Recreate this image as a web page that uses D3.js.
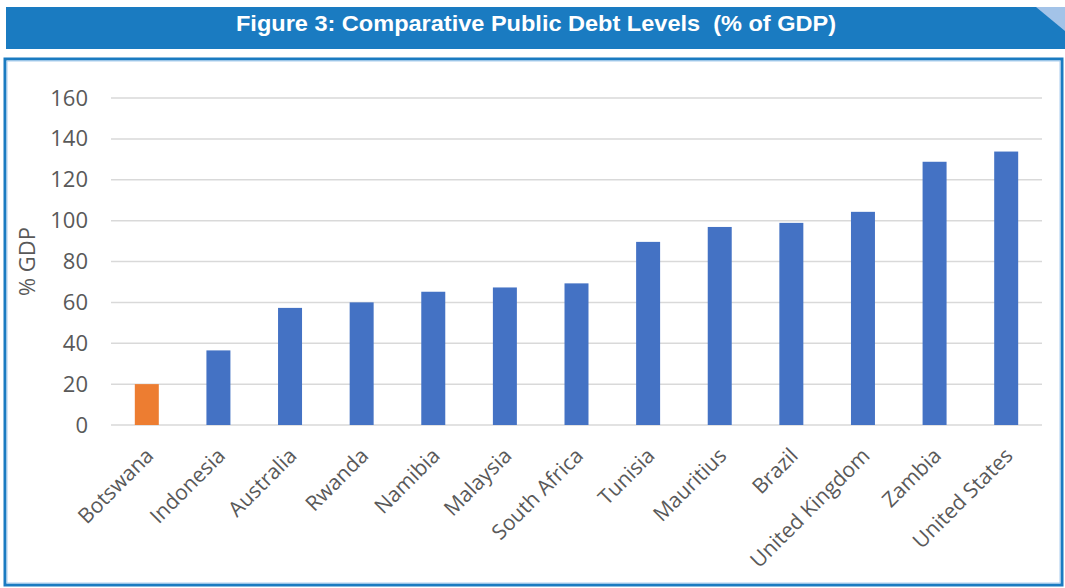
<!DOCTYPE html>
<html>
<head>
<meta charset="utf-8">
<script src="https://cdn.jsdelivr.net/npm/d3@7"></script>
<style>
  body { margin: 0; background: #fff; }
  svg { display: block; }
</style>
</head>
<body>
<svg id="chart"></svg>
<script>
// data
var countries = ["Botswana", "Indonesia", "Australia", "Rwanda", "Namibia", "Malaysia",
  "South Africa", "Tunisia", "Mauritius", "Brazil", "United Kingdom", "Zambia", "United States"];
var debt = [20, 36.5, 57.3, 60, 65.2, 67.3, 69.3, 89.6, 96.9, 98.9, 104.3, 128.8, 133.8];
var yTicks = [0, 20, 40, 60, 80, 100, 120, 140, 160];
var highlight = "Botswana";

var W = 1065, H = 588;
var svg = d3.select("#chart").attr("width", W).attr("height", H);

// header band
svg.append("rect")
  .attr("x", 6).attr("y", 7).attr("width", W - 6).attr("height", 42)
  .attr("fill", "#1a7bc1");
svg.append("path")
  .attr("d", "M1036,7 L1065,7 L1065,31 Z")
  .attr("fill", "#a3c3e8");
svg.append("text")
  .attr("x", 236).attr("y", 31)
  .attr("textLength", 600)
  .attr("lengthAdjust", "spacingAndGlyphs")
  .attr("fill", "#fff")
  .style("white-space", "pre")
  .style("font-family", "'Liberation Sans', Arial, sans-serif")
  .style("font-weight", "bold")
  .style("font-size", "22px")
  .text("Figure 3: Comparative Public Debt Levels  (% of GDP)");

// frame
svg.append("rect")
  .attr("x", 5).attr("y", 59).attr("width", 1057).attr("height", 526)
  .attr("fill", "none")
  .attr("stroke", "#1a7bc1").attr("stroke-width", 3);
svg.append("rect")
  .attr("x", 7).attr("y", 61).attr("width", 1053).attr("height", 522)
  .attr("fill", "none")
  .attr("stroke", "#a9cdee").attr("stroke-width", 1);

var margin = {top: 98, left: 111, right: 1042, bottom: 425};

var x = d3.scaleBand()
  .domain(countries)
  .range([margin.left, margin.right])
  .paddingInner(0.665)
  .paddingOuter(0.3325);

var y = d3.scaleLinear()
  .domain([0, 160])
  .range([margin.bottom, margin.top]);

var font = "'Open Sans', 'DejaVu Sans', sans-serif";

// gridlines
svg.append("g")
  .selectAll("line")
  .data(yTicks)
  .enter()
  .append("line")
    .attr("x1", margin.left).attr("x2", margin.right)
    .attr("y1", function(d) { return y(d); })
    .attr("y2", function(d) { return y(d); })
    .attr("stroke", "#d9d9d9").attr("stroke-width", 1.5);

// y axis
var yAxis = svg.append("g")
  .attr("transform", "translate(" + margin.left + ",0)")
  .call(d3.axisLeft(y).tickValues(yTicks).tickSize(0).tickPadding(23));
yAxis.select(".domain").remove();
yAxis.selectAll("text")
  .style("font-family", font)
  .style("font-size", "22px")
  .attr("fill", "#595959");

svg.append("text")
  .attr("transform", "translate(35," + ((margin.top + margin.bottom) / 2) + ") rotate(-90)")
  .attr("text-anchor", "middle")
  .style("font-family", font)
  .style("font-size", "22px")
  .attr("fill", "#595959")
  .text("% GDP");

// bars
svg.append("g")
  .selectAll("rect")
  .data(countries)
  .enter()
  .append("rect")
    .attr("x", function(d) { return x(d); })
    .attr("y", function(d, i) { return y(debt[i]); })
    .attr("width", x.bandwidth())
    .attr("height", function(d, i) { return y(0) - y(debt[i]); })
    .attr("fill", function(d) { return d === highlight ? "#ed7d31" : "#4472c4"; });

// x axis labels
var xAxis = svg.append("g")
  .attr("transform", "translate(0," + margin.bottom + ")")
  .call(d3.axisBottom(x).tickSize(0).tickPadding(0));
xAxis.select(".domain").remove();
xAxis.selectAll("text")
  .style("font-family", font)
  .style("font-size", "21px")
  .attr("fill", "#595959")
  .attr("text-anchor", "end")
  .attr("dy", 0)
  .attr("transform", "translate(8,32) rotate(-45)");
</script>
</body>
</html>
